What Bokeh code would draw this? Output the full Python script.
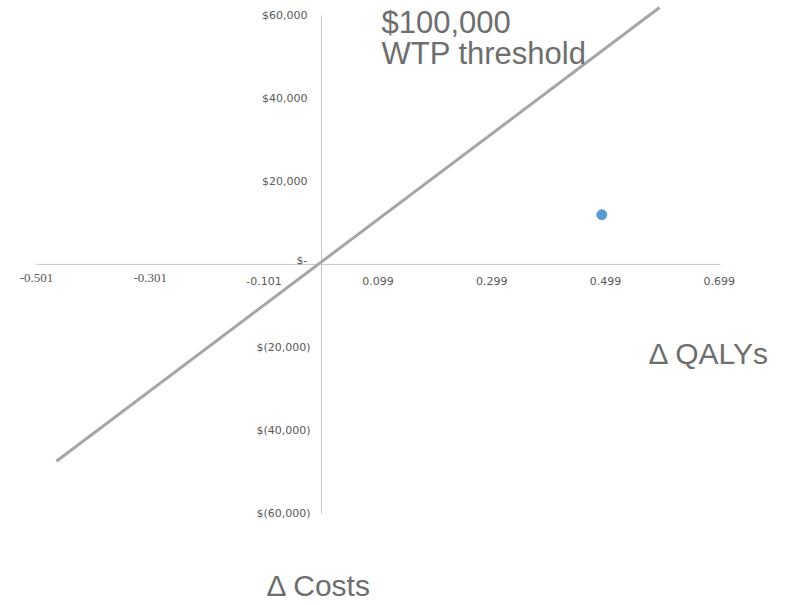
from bokeh.plotting import figure
from bokeh.models import Range1d, Label, ColumnDataSource
from bokeh.core.properties import value
from bokeh.embed import file_html
from bokeh.resources import INLINE

# ---- data ----
x_ticks = [-0.501, -0.301, -0.101, 0.099, 0.299, 0.499, 0.699]
x_tick_labels = ["-0.501", "-0.301", "-0.101", "0.099", "0.299", "0.499", "0.699"]
y_ticks = [60000, 40000, 20000, 0, -20000, -40000, -60000]
y_tick_labels = ["$60,000", "$40,000", "$20,000", "$-", "$(20,000)", "$(40,000)", "$(60,000)"]

# incremental QALYs / costs of the strategy
delta_qalys = [0.4925]
delta_costs = [11950]

# WTP threshold line ($100,000 per QALY), end points as drawn
wtp_x = [-0.466, 0.594]
wtp_y = [-47400, 61850]

# ---- layout (pixel mapping) ----
W, H = 794, 605
PX_PER_X = 569.0          # px per 1 QALY
PX_PER_Y = 4.1525 / 1000  # px per dollar
X_AT_PX0 = -0.501 - 36 / PX_PER_X
ORIGIN_PY = 263.9
x_start, x_end = X_AT_PX0, X_AT_PX0 + W / PX_PER_X
y_end = ORIGIN_PY / PX_PER_Y
y_start = -(H - ORIGIN_PY) / PX_PER_Y

p = figure(width=W, height=H, output_backend="svg", toolbar_location=None,
           x_range=Range1d(x_start, x_end), y_range=Range1d(y_start, y_end),
           min_border=0, outline_line_color=None, background_fill_color="white",
           border_fill_color="white")
p.axis.visible = False
p.grid.visible = False

axis_col = "#c4c4c4"
# horizontal axis (y = 0)
p.segment(x0=[x_ticks[0]], y0=[0], x1=[0.701], y1=[0], line_color=axis_col, line_width=1)
# vertical axis (x = 0)
p.segment(x0=[0], y0=[y_ticks[0]], x1=[0], y1=[y_ticks[-1]], line_color=axis_col, line_width=1)

tick_col = "#595959"
# x tick labels: first two in serif, rest sans
serif_src = ColumnDataSource(dict(x=x_ticks[:2], y=[0, 0], t=x_tick_labels[:2]))
sans_src = ColumnDataSource(dict(x=x_ticks[2:], y=[0] * 5, t=x_tick_labels[2:]))
p.text(x="x", y="y", text="t", source=serif_src, text_font=value("Liberation Serif"),
       text_font_size="13px", text_color=tick_col, text_align="center",
       text_baseline="middle", y_offset=14)
p.text(x="x", y="y", text="t", source=sans_src, text_font=value("DejaVu Sans"),
       text_font_size="11px", text_color=tick_col, text_align="center",
       text_baseline="middle", y_offset=16.5)

# y tick labels
pos_idx = [i for i, v in enumerate(y_ticks) if v > 0]
neg_idx = [i for i, v in enumerate(y_ticks) if v < 0]
zero_idx = [i for i, v in enumerate(y_ticks) if v == 0]
for idx, xo, yo in ((pos_idx, -14, 0), (neg_idx, -11, 0), (zero_idx, -14, -4)):
    src = ColumnDataSource(dict(x=[0] * len(idx), y=[y_ticks[i] for i in idx],
                                t=[y_tick_labels[i] for i in idx]))
    p.text(x="x", y="y", text="t", source=src, text_font=value("DejaVu Sans"),
           text_font_size="11px", text_color=tick_col, text_align="right",
           text_baseline="middle", x_offset=xo, y_offset=yo)

# WTP threshold line
p.line(wtp_x, wtp_y, line_color="#a6a6a6", line_width=3)

# point
p.scatter(delta_qalys, delta_costs, size=10, fill_color="#5b9bd5", line_color="#5b9bd5")

big_col = "#6e6e6e"
font = "Liberation Sans"
SHIFT = 12.5
for txt, x, y, size in (("$100,000", 381, H - 34.5, "31px"),
                        ("WTP threshold", 381, H - 65.5, "31px"),
                        ("\u0394 QALYs", 648, H - 365, "30px"),
                        ("\u0394 Costs", 266, H - 597, "30px")):
    p.add_layout(Label(x=x, y=y + SHIFT, x_units="screen", y_units="screen", text=txt,
                       text_font=font, text_font_size=size, text_color=big_col,
                       text_baseline="alphabetic", text_align="left"))

open("out.html", "w").write(file_html(p, INLINE))
